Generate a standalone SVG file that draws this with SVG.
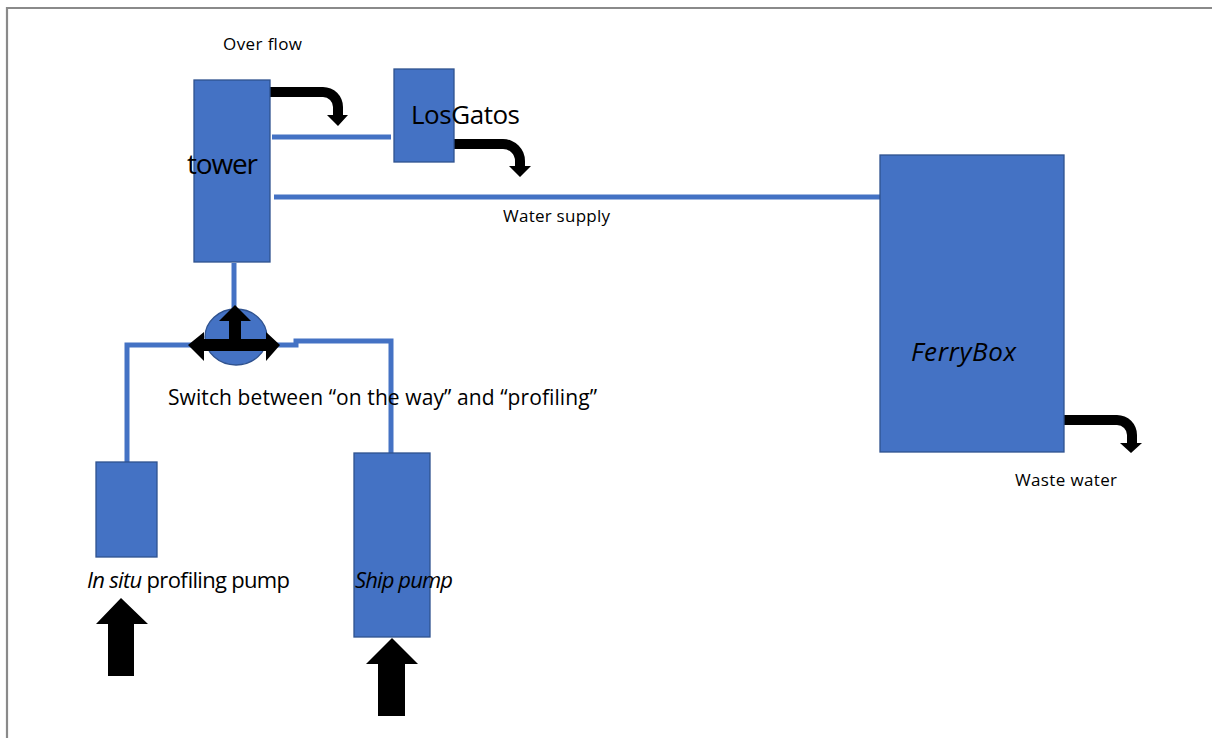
<svg xmlns="http://www.w3.org/2000/svg" width="1212" height="738" viewBox="0 0 1212 738">
<style>
.box{fill:#4472C4;stroke:#2F528F;stroke-width:1.3}
.pipe{fill:none;stroke:#4472C4;stroke-width:5}
.arr{fill:#000}
text{font-family:"Open Sans","Liberation Sans",sans-serif;fill:#000}
.it{font-style:italic}
</style>
<rect width="1212" height="738" fill="#fff"/>
<path d="M7,738 V8 H1212" fill="none" stroke="#8a8a8a" stroke-width="2.2"/>
<g id="connectors">
<path class="pipe" d="M272,137 H391"/>
<path class="pipe" d="M274,197 H880"/>
<path class="pipe" d="M234,263 V312"/>
<path class="pipe" d="M127,462 V345 H210"/>
<path class="pipe" d="M262,345 H296 V341 H391 V453"/>
<path class="arr" d="M270,87 H323 A20,20 0 0 1 343,107 V115 H348 L338,126 L327,115 H333 V107 A10,10 0 0 0 323,97 H270 Z"/>
<path class="arr" d="M454,139 H503 A22,22 0 0 1 525,161 V166 H531 L520,177 L509,166 H515 V161 A12,12 0 0 0 503,149 H454 Z"/>
<path class="arr" d="M1064,415 H1117 A20,20 0 0 1 1137,435 V443 H1142 L1131,453 L1120,443 H1127 V435 A10,10 0 0 0 1117,425 H1064 Z"/>
<path class="arr" d="M121,598 L148,624 H134 V676 H108 V624 H96 Z"/>
<path class="arr" d="M392,638 L418,664 H405 V716 H378 V664 H366 Z"/>
</g>
<g id="tower">
<rect class="box" x="194" y="80" width="76" height="182"/>
<text x="187" y="174" font-size="28" textLength="71">tower</text>
</g>
<g id="overflow-label">
<text x="223" y="50" font-size="17" textLength="79">Over flow</text>
</g>
<g id="losgatos">
<rect class="box" x="394" y="69" width="60" height="93"/>
<text x="411" y="124" font-size="26" textLength="109">LosGatos</text>
</g>
<g id="water-supply-label">
<text x="503" y="222" font-size="17" textLength="107">Water supply</text>
</g>
<g id="ferrybox">
<rect class="box" x="880" y="155" width="184" height="297"/>
<text class="it" x="911" y="361" font-size="26" textLength="105">FerryBox</text>
</g>
<g id="waste-water-label">
<text x="1015" y="486" font-size="17" textLength="102">Waste water</text>
</g>
<g id="switch">
<ellipse cx="236" cy="337" rx="31" ry="28" class="box"/>
<path class="arr" d="M188,345 L204,332 V339 H229 V321 H219 L235,305 L251,321 H241 V339 H266 V332 L280,345 L266,361 V351 H204 V361 Z"/>
</g>
<g id="switch-label">
<text x="168" y="405" font-size="21" textLength="429">Switch between “on the way” and “profiling”</text>
</g>
<g id="insitu-pump">
<rect class="box" x="96" y="462" width="61" height="95"/>
<text x="87" y="588" font-size="22" textLength="203"><tspan class="it">In situ</tspan> profiling pump</text>
</g>
<g id="ship-pump">
<rect class="box" x="354" y="453" width="76" height="184"/>
<text class="it" x="355" y="588" font-size="22" textLength="98">Ship pump</text>
</g>
</svg>
